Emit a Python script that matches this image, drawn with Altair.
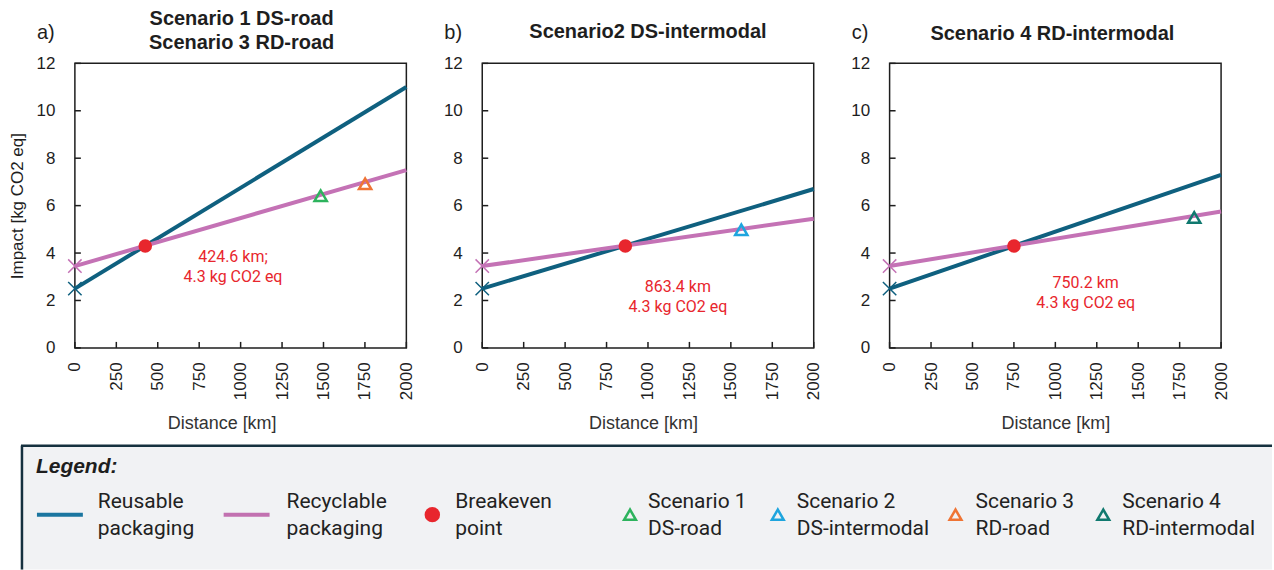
import altair as alt
import pandas as pd

# ---------------- data ----------------
distance_km = [0, 2000]
reusable_a = [2.5, 11.0]
recyclable_a = [3.45, 7.5]
reusable_b = [2.5, 6.7]
recyclable_b = [3.45, 5.45]
reusable_c = [2.5, 7.3]
recyclable_c = [3.45, 5.75]

series_names = ["Reusable packaging", "Recyclable packaging"]
series_colors = ["#0f607f", "#c472b5"]

panel_titles = [["Scenario 1 DS-road", "Scenario 3 RD-road"],
                ["Scenario2 DS-intermodal"],
                ["Scenario 4 RD-intermodal"]]
panel_tags = ["a)", "b)", "c)"]

breakeven_km = [424.6, 863.4, 750.2]
breakeven_impact = [4.3, 4.3, 4.3]
breakeven_color = "#e8262d"

note_lines = [["424.6 km;", "4.3 kg CO2 eq"],
              ["863.4 km", "4.3 kg CO2 eq"],
              ["750.2 km", "4.3 kg CO2 eq"]]
note_km = [954, 1180, 1183]
note_impact = [[3.83, 3.0], [2.58, 1.72], [2.74, 1.9]]

scenario_names = ["Scenario 1 DS-road", "Scenario 2 DS-intermodal",
                  "Scenario 3 RD-road", "Scenario 4 RD-intermodal"]
scenario_panel = [0, 1, 0, 2]
scenario_km = [1483, 1563, 1751, 1838]
scenario_impact = [6.42, 4.98, 6.92, 5.5]
scenario_colors = ["#2db35d", "#1ea5de", "#ef7434", "#10796f"]

x_ticks = [0, 250, 500, 750, 1000, 1250, 1500, 1750, 2000]
y_ticks = [0, 2, 4, 6, 8, 10, 12]

legend_labels = [["Reusable", "packaging"], ["Recyclable", "packaging"],
                 ["Breakeven", "point"], ["Scenario 1", "DS-road"],
                 ["Scenario 2", "DS-intermodal"], ["Scenario 3", "RD-road"],
                 ["Scenario 4", "RD-intermodal"]]
legend_line_colors = ["#1b76a0", "#c271b0"]

# ---------------- layout (pixels) ----------------
W, H = 332, 285
ORIGIN_X, ORIGIN_Y = 75, 63          # absolute position of panel a plot area
legend_sym_x = [60, 247, 433, 631, 779, 957, 1105]
legend_txt_x = [98, 287, 456, 649, 798, 977, 1124]
title_center_x = [167, 166, 163]
title_line_y = [[-44, -20], [-31], [-29]]
xtitle_x = [147, 161, 166]

X_PATH = "M -1 -1 L 1 1 M 1 -1 L -1 1"
AXIS_FONT = "Liberation Sans"
TEXT_FONT = "Roboto"
INK = "#1e1e1e"


def rel_x(v):
    return v - ORIGIN_X


def rel_y(v):
    return v - ORIGIN_Y


def legend_layers():
    one = pd.DataFrame({"k": [0]})
    layers = []
    box_top = rel_y(446)
    box_bottom = rel_y(570)
    layers.append(alt.Chart(one).mark_rect(fill="#f1f2f4").encode(
        x=alt.value(rel_x(22)), x2=alt.value(rel_x(1274)),
        y=alt.value(box_top), y2=alt.value(box_bottom)))
    layers.append(alt.Chart(one).mark_rule(color="#16313f", strokeWidth=2.5).encode(
        x=alt.value(rel_x(21)), x2=alt.value(rel_x(1274)), y=alt.value(box_top)))
    layers.append(alt.Chart(one).mark_rule(color="#16313f", strokeWidth=2.5).encode(
        x=alt.value(rel_x(22)), y=alt.value(box_top), y2=alt.value(box_bottom)))
    layers.append(alt.Chart(one).mark_text(
        font=AXIS_FONT, fontSize=21, fontStyle="italic", fontWeight="bold",
        align="left", baseline="alphabetic", color=INK).encode(
        x=alt.value(rel_x(36)), y=alt.value(rel_y(473)), text=alt.value("Legend:")))
    sym_y = rel_y(515)
    for j in range(2):
        layers.append(alt.Chart(one).mark_rule(color=legend_line_colors[j], strokeWidth=4).encode(
            x=alt.value(rel_x(legend_sym_x[j] - 23)), x2=alt.value(rel_x(legend_sym_x[j] + 23)),
            y=alt.value(sym_y)))
    layers.append(alt.Chart(one).mark_point(shape="circle", filled=True, size=240,
                                            color=breakeven_color, opacity=1).encode(
        x=alt.value(rel_x(legend_sym_x[2])), y=alt.value(sym_y)))
    for j in range(4):
        layers.append(alt.Chart(one).mark_point(shape="triangle-up", filled=False, size=140,
                                                strokeWidth=2.5, color=scenario_colors[j],
                                                opacity=1).encode(
            x=alt.value(rel_x(legend_sym_x[3 + j])), y=alt.value(sym_y)))
    for j, lab in enumerate(legend_labels):
        layers.append(alt.Chart(one).mark_text(
            font=TEXT_FONT, fontSize=21, lineHeight=27, align="left",
            baseline="alphabetic", color="#222222").encode(
            x=alt.value(rel_x(legend_txt_x[j])), y=alt.value(rel_y(508)),
            text=alt.value(lab)))
    return layers


def panel(i, reus, recy):
    lines_df = pd.DataFrame({
        "km": distance_km + distance_km,
        "impact": reus + recy,
        "series": [series_names[0]] * 2 + [series_names[1]] * 2,
        "col": [series_colors[0]] * 2 + [series_colors[1]] * 2,
    })
    x_axis = alt.Axis(values=x_ticks, format="d", labelAngle=270, labelFontSize=17,
                      labelFont=AXIS_FONT, labelColor=INK, labelPadding=14,
                      labelFlush=False, labelOverlap=False,
                      ticks=False, tickSize=0, domain=False, grid=False,
                      title="Distance [km]", titleFont=AXIS_FONT, titleFontSize=18,
                      titleFontWeight="normal", titleColor="#333333",
                      titleX=xtitle_x[i], titleY=76, titleAlign="center",
                      titleBaseline="middle")
    if i == 0:
        y_axis = alt.Axis(values=y_ticks, format="d", labelFontSize=17, labelFont=AXIS_FONT,
                          labelColor=INK, labelPadding=20, labelFlush=False, labelOverlap=False,
                          ticks=False, tickSize=0, domain=False, grid=False,
                          title="Impact [kg CO2 eq]", titleFont=AXIS_FONT, titleFontSize=17,
                          titleFontWeight="normal", titleColor=INK, titleX=-57, titleY=H / 2,
                          titleAngle=270, titleAlign="center", titleBaseline="middle")
    else:
        y_axis = alt.Axis(values=y_ticks, format="d", labelFontSize=17, labelFont=AXIS_FONT,
                          labelColor=INK, labelPadding=20, labelFlush=False, labelOverlap=False,
                          ticks=False, tickSize=0, domain=False, grid=False, title=None)
    xs = alt.X("km:Q", scale=alt.Scale(domain=[0, 2000], nice=False, zero=False), axis=x_axis)
    ys = alt.Y("impact:Q", scale=alt.Scale(domain=[0, 12], nice=False), axis=y_axis)

    base = alt.Chart(lines_df)
    lines = base.mark_line(strokeWidth=4, strokeCap="butt").encode(
        x=xs, y=ys, detail="series:N", color=alt.Color("col:N", scale=None))
    starts = base.transform_filter(alt.datum.km == 0).mark_point(
        shape=X_PATH, size=180, filled=False, strokeWidth=1.5, opacity=1).encode(
        x="km:Q", y="impact:Q", color=alt.Color("col:N", scale=None))

    be_df = pd.DataFrame({"km": [breakeven_km[i]], "impact": [breakeven_impact[i]]})
    be = alt.Chart(be_df).mark_point(shape="circle", filled=True, size=185,
                                     color=breakeven_color, opacity=1).encode(
        x="km:Q", y="impact:Q")

    sc_df = pd.DataFrame({"name": scenario_names, "panel": scenario_panel,
                          "km": scenario_km, "impact": scenario_impact,
                          "col": scenario_colors})
    sc_df = sc_df[sc_df["panel"] == i]
    tri = alt.Chart(sc_df).mark_point(shape="triangle-up", filled=False, size=150,
                                      strokeWidth=2.5, opacity=1).encode(
        x="km:Q", y="impact:Q", color=alt.Color("col:N", scale=None))

    note_df = pd.DataFrame({"txt": note_lines[i], "km": [note_km[i]] * 2,
                            "impact": note_impact[i]})
    notes = alt.Chart(note_df).mark_text(font=TEXT_FONT, fontSize=16, color=breakeven_color,
                                         align="center", baseline="middle").encode(
        x="km:Q", y="impact:Q", text="txt:N")

    xt_df = pd.DataFrame({"km": x_ticks})
    yt_df = pd.DataFrame({"impact": y_ticks})
    xtick = alt.Chart(xt_df).mark_rule(color=INK, strokeWidth=1.5).encode(
        x="km:Q", y=alt.value(H), y2=alt.value(H - 6))
    ytick = alt.Chart(yt_df).mark_rule(color=INK, strokeWidth=1.5).encode(
        y="impact:Q", x=alt.value(0), x2=alt.value(6))

    tag_df = pd.DataFrame({"tag": [panel_tags[i]]})
    tag = alt.Chart(tag_df).mark_text(font=AXIS_FONT, fontSize=20, align="left",
                                      baseline="middle", color=INK).encode(
        x=alt.value(-38), y=alt.value(-30), text="tag:N")

    title_layers = []
    for line, ty in zip(panel_titles[i], title_line_y[i]):
        t_df = pd.DataFrame({"t": [line]})
        title_layers.append(alt.Chart(t_df).mark_text(
            font=AXIS_FONT, fontSize=20, fontWeight="bold", align="center",
            baseline="middle", color=INK).encode(
            x=alt.value(title_center_x[i]), y=alt.value(ty), text="t:N"))

    layers = []
    if i == 0:
        layers += legend_layers()
    layers += [xtick, ytick, lines, starts, be, tri, notes, tag] + title_layers
    return alt.layer(*layers).properties(
        width=W, height=H,
        view=alt.ViewBackground(stroke=INK, strokeWidth=1.5),
    )


pa = panel(0, reusable_a, recyclable_a)
pb = panel(1, reusable_b, recyclable_b)
pc = panel(2, reusable_c, recyclable_c)

chart = alt.hconcat(pa, pb, pc, spacing=76, bounds="flush").properties(
    padding={"left": 8, "top": 8, "right": 0, "bottom": 0},
    background="white",
).configure_view(strokeWidth=0)

chart.save("out.html", embed_options={"renderer": "svg", "actions": False})
